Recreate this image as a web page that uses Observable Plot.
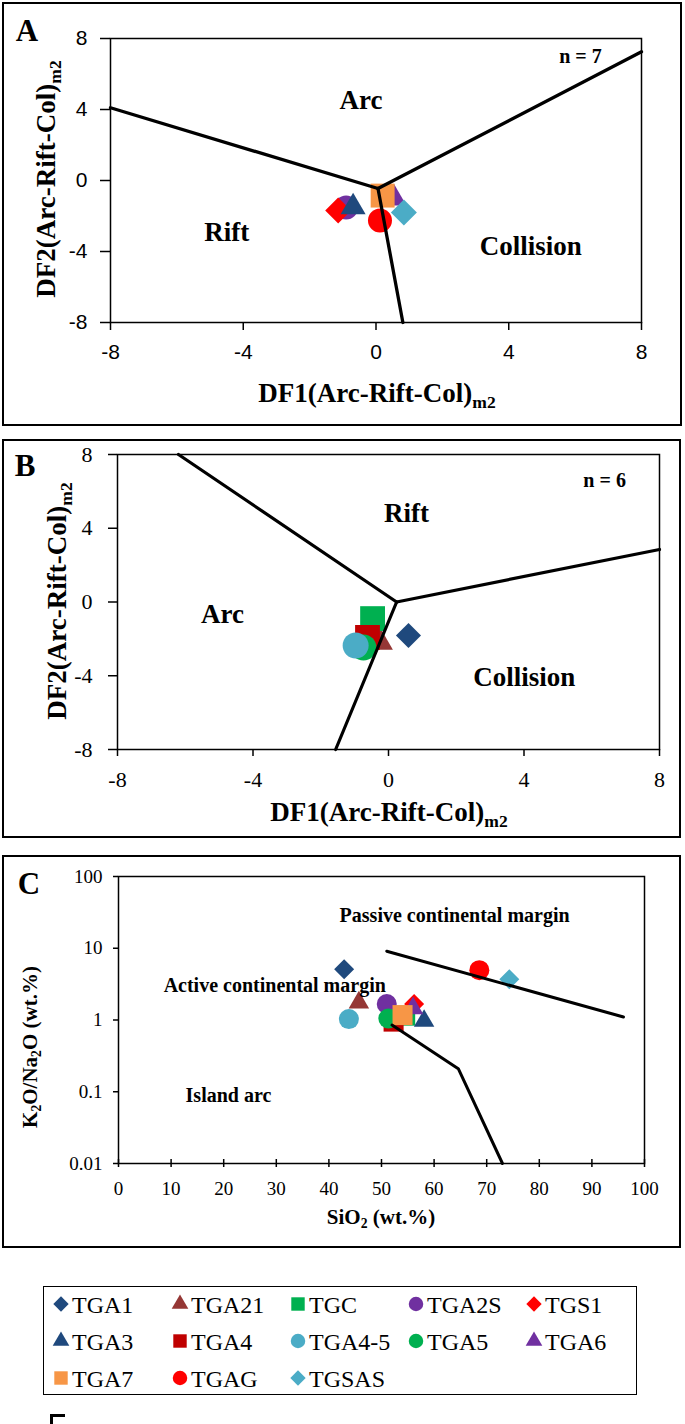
<!DOCTYPE html>
<html><head><meta charset="utf-8">
<script src="https://cdn.jsdelivr.net/npm/d3@7"></script>
<script src="https://cdn.jsdelivr.net/npm/@observablehq/plot@0.6"></script>
<style>
html,body{margin:0;padding:0;background:#fff;}
#page{position:relative;width:685px;height:1424px;overflow:hidden;background:#fff;}
#page svg{position:absolute;left:0;}
.box{position:absolute;border:2px solid #000;box-sizing:border-box;}
.t{position:absolute;font-family:"Liberation Serif","Times New Roman",Times,serif;font-weight:bold;white-space:nowrap;color:#000;line-height:1;}
.sub{font-size:0.65em;position:relative;top:0.32em;}
.leg{position:absolute;font-family:"Liberation Serif","Times New Roman",Times,serif;font-size:24px;line-height:1;white-space:nowrap;color:#000;}
</style></head>
<body><div id="page"></div>
<script>
// ---------------- data ----------------
const sampleNames   = ["TGA1","TGA21","TGC","TGA2S","TGS1","TGA3","TGA4","TGA4-5","TGA5","TGA6","TGA7","TGAG","TGSAS"];
const sampleSymbols = ["diamond2","triangle","square","circle","diamond2","triangle","square","circle","circle","triangle","square","circle","diamond2"];
const sampleColors  = ["#1F497D","#953735","#00B050","#7030A0","#FF0000","#1F497D","#C00000","#4BACC6","#00B050","#7030A0","#F79646","#FF0000","#4BACC6"];

const dfTicks = [-8, -4, 0, 4, 8];

// Panel A (n = 7)
const aSamples = ["TGA2S","TGS1","TGA3","TGA6","TGA7","TGAG","TGSAS"];
const aDF1     = [-0.90, -1.14, -0.69, 0.54, 0.20, 0.12, 0.84];
const aDF2     = [-1.52, -1.69, -1.50, -1.00, -0.85, -2.25, -1.80];
const aBoundX1 = [-8.0, 0.06, 0.06];
const aBoundY1 = [4.1, -0.45, -0.45];
const aBoundX2 = [0.06, 8.0, 0.81];
const aBoundY2 = [-0.45, 7.25, -8.0];
const aLabels  = ["Arc", "Rift", "Collision"];
const aLabelX  = [-0.45, -4.5, 4.66];
const aLabelY  = [4.5, -2.9, -3.7];
const aCount   = "n = 7";

// Panel B (n = 6)
const bSamples = ["TGA1","TGA21","TGC","TGA4","TGA5","TGA4-5"];
const bDF1     = [0.59, -0.24, -0.47, -0.62, -0.74, -0.97];
const bDF2     = [-1.82, -2.2, -0.90, -1.92, -2.47, -2.36];
const bBoundX1 = [-6.2, 0.24, 0.24];
const bBoundY1 = [8.0, 0.0, 0.0];
const bBoundX2 = [0.24, 8.0, -1.56];
const bBoundY2 = [0.0, 2.85, -8.0];
const bLabels  = ["Rift", "Arc", "Collision"];
const bLabelX  = [0.53, -4.9, 4.01];
const bLabelY  = [4.8, -0.68, -4.09];
const bCount   = "n = 6";

// Panel C
const cSamples = ["TGA1","TGA21","TGC","TGA2S","TGS1","TGA3","TGA4","TGA4-5","TGA5","TGA6","TGA7","TGAG","TGSAS"];
const cSiO2    = [42.9, 45.7, 54.5, 51.0, 56.2, 58.1, 52.3, 43.8, 51.3, 56.0, 54.0, 68.6, 74.3];
const cRatio   = [5.1, 1.75, 1.15, 1.67, 1.67, 0.97, 0.95, 1.03, 1.05, 1.45, 1.17, 4.95, 3.71];
const cLineId  = ["upper","upper","lower","lower","lower"];
const cLineX   = [51, 96, 52, 64.6, 73];
const cLineY   = [9.1, 1.1, 0.85, 0.21, 0.01];
const cLabels  = ["Passive continental margin", "Active continental margin", "Island arc"];
const cLabelX  = [63.9, 29.7, 20.9];
const cLabelY  = [28.7, 2.97, 0.088];
const cTicksX  = [0, 10, 20, 30, 40, 50, 60, 70, 80, 90, 100];
const cTicksY  = [0.01, 0.1, 1, 10, 100];

// ---------------- helpers ----------------
const SERIF = '"Liberation Serif", "Times New Roman", Times, serif';
const SANS  = '"Liberation Sans", Arial, Helvetica, sans-serif';
const page = document.getElementById("page");
const info = Object.fromEntries(sampleNames.map((n, i) => [n, {symbol: sampleSymbols[i], color: sampleColors[i]}]));
const fmt = d => String(d);

function pointMarks(names, xs, ys, sizes) {
  return names.map((n, i) => Plot.dot([{x: xs[i], y: ys[i]}], {
    x: "x", y: "y", symbol: info[n].symbol, fill: info[n].color, r: sizes[info[n].symbol]
  }));
}
function links(x1, y1, x2, y2) {
  return x1.map((v, i) => ({x1: v, y1: y1[i], x2: x2[i], y2: y2[i]}));
}
function labelRows(t, xs, ys) { return t.map((s, i) => ({text: s, x: xs[i], y: ys[i]})); }

function place(svg, top) { svg.style.top = top + "px"; page.appendChild(svg); }
function box(l, t, r, b, bw) {
  const d = document.createElement("div"); d.className = "box";
  Object.assign(d.style, {left: l + "px", top: t + "px", width: (r - l) + "px", height: (b - t) + "px", borderWidth: (bw || 2) + "px"});
  page.appendChild(d);
}
function title(html, cx, cy, size, rot, weight) {
  const d = document.createElement("div"); d.className = "t";
  d.style.fontSize = size + "px"; d.style.left = cx + "px"; d.style.top = cy + "px";
  if (weight) d.style.fontWeight = weight;
  d.style.transform = "translate(-50%,-50%)" + (rot ? " rotate(-90deg)" : "");
  d.innerHTML = html; page.appendChild(d);
}
const baseStyle = {background: "transparent", overflow: "visible", color: "#000", maxWidth: "none"};

// ---------------- Panel A ----------------
const plotA = Plot.plot({
  width: 685, height: 425, marginLeft: 110, marginRight: 44, marginTop: 38, marginBottom: 103,
  style: baseStyle,
  x: {domain: [-8, 8], label: null}, y: {domain: [-8, 8], label: null},
  marks: [
    ...pointMarks(aSamples, aDF1, aDF2, {circle: 12, square: 13.5, diamond2: 11.7, triangle: 9.3}),
    Plot.link(links(aBoundX1, aBoundY1, aBoundX2, aBoundY2), {x1: "x1", y1: "y1", x2: "x2", y2: "y2", stroke: "#000", strokeWidth: 3.3, strokeLinecap: "round"}),
    Plot.frame({stroke: "#000", strokeWidth: 1.5}),
    Plot.axisX(dfTicks, {tickSize: 8, tickPadding: 14, fontSize: 21, fontFamily: SANS, tickFormat: fmt, label: null, strokeWidth: 1.5}),
    Plot.axisY(dfTicks, {tickSize: 10, tickPadding: 13, fontSize: 21, fontFamily: SANS, tickFormat: fmt, label: null, strokeWidth: 1.5}),
    Plot.text(labelRows(aLabels, aLabelX, aLabelY), {x: "x", y: "y", text: "text", fontSize: 27, fontWeight: "bold", fontFamily: SERIF, fill: "#000"}),
    Plot.text([{x: 6.16, y: 7.0, text: aCount}], {x: "x", y: "y", text: "text", fontSize: 20, fontWeight: "bold", fontFamily: SERIF, fill: "#000"})
  ]
});
place(plotA, 0);

// ---------------- Panel B ----------------
const plotB = Plot.plot({
  width: 685, height: 399, marginLeft: 117, marginRight: 26, marginTop: 15, marginBottom: 89,
  style: baseStyle,
  x: {domain: [-8, 8], label: null}, y: {domain: [-8, 8], label: null},
  marks: [
    ...pointMarks(bSamples, bDF1, bDF2, {circle: 13, square: 14, diamond2: 11.3, triangle: 9.3}),
    Plot.link(links(bBoundX1, bBoundY1, bBoundX2, bBoundY2), {x1: "x1", y1: "y1", x2: "x2", y2: "y2", stroke: "#000", strokeWidth: 3.2, strokeLinecap: "round"}),
    Plot.frame({stroke: "#000", strokeWidth: 1.5}),
    Plot.axisX(dfTicks, {tickSize: 7, tickPadding: 15, fontSize: 22, fontFamily: SERIF, tickFormat: fmt, label: null, strokeWidth: 1.5}),
    Plot.axisY(dfTicks, {tickSize: 9, tickPadding: 16, fontSize: 22, fontFamily: SERIF, tickFormat: fmt, label: null, strokeWidth: 1.5}),
    Plot.text(labelRows(bLabels, bLabelX, bLabelY), {x: "x", y: "y", text: "text", fontSize: 27, fontWeight: "bold", fontFamily: SERIF, fill: "#000"}),
    Plot.text([{x: 6.38, y: 6.59, text: bCount}], {x: "x", y: "y", text: "text", fontSize: 20, fontWeight: "bold", fontFamily: SERIF, fill: "#000"})
  ]
});
place(plotB, 439);

// ---------------- Panel C ----------------
const cLineRows = cLineX.map((v, i) => ({id: cLineId[i], x: v, y: cLineY[i]}));
const plotC = Plot.plot({
  width: 685, height: 393, marginLeft: 118, marginRight: 41, marginTop: 21, marginBottom: 85,
  style: baseStyle,
  x: {domain: [0, 100], label: null}, y: {type: "log", domain: [0.01, 100], label: null},
  marks: [
    ...pointMarks(cSamples, cSiO2, cRatio, {circle: 10, square: 11.3, diamond2: 9, triangle: 7.6}),
    Plot.line(cLineRows, {x: "x", y: "y", z: "id", stroke: "#000", strokeWidth: 3, strokeLinejoin: "miter"}),
    Plot.frame({stroke: "#000", strokeWidth: 1.5}),
    Plot.axisX(cTicksX, {tickSize: 8, dy: -4, text: null, strokeWidth: 1.5}),
    Plot.axisX(cTicksX, {tickSize: 0, tickPadding: 18, fontSize: 19, fontFamily: SERIF, tickFormat: fmt, label: null}),
    Plot.axisY(cTicksY, {tickSize: 5, tickPadding: 11, fontSize: 19, fontFamily: SERIF, tickFormat: fmt, label: null, strokeWidth: 1.5}),
    Plot.text(labelRows(cLabels, cLabelX, cLabelY), {x: "x", y: "y", text: "text", fontSize: 20, fontWeight: "bold", fontFamily: SERIF, fill: "#000"})
  ]
});
place(plotC, 855);

// ---------------- frames & titles ----------------
box(2, 2, 682, 426, 2);
box(2, 439, 681, 838, 2.5);
box(2, 855, 681, 1248, 2);

title("A", 27, 30, 31);
title("B", 25, 465, 31);
title("C", 29, 883, 31);
title('DF1(Arc-Rift-Col)<span class="sub">m2</span>', 377, 393, 27);
title('DF2(Arc-Rift-Col)<span class="sub">m2</span>', 46, 179, 27, true);
title('DF1(Arc-Rift-Col)<span class="sub">m2</span>', 389, 812, 27);
title('DF2(Arc-Rift-Col)<span class="sub">m2</span>', 57, 601, 27, true);
title('SiO<span class="sub">2</span> (wt.%)', 381, 1217, 21);
title('K<span class="sub">2</span>O/Na<span class="sub">2</span>O (wt.%)', 30, 1047, 21, true);

// ---------------- legend ----------------
box(43, 1286, 637, 1395, 1.5);
const legColX = [61, 180, 298, 416, 534];
const legRowY = [1304, 1341, 1378];
const legSize = {circle: 165, square: 180, diamond2: 150, triangle: 120};
const d3sym = {circle: d3.symbolCircle, square: d3.symbolSquare, diamond2: d3.symbolDiamond2, triangle: d3.symbolTriangle};
sampleNames.forEach((n, i) => {
  const cx = legColX[i % 5], cy = legRowY[Math.floor(i / 5)];
  const svg = d3.create("svg").attr("width", 22).attr("height", 22)
    .style("position", "absolute").style("left", (cx - 11) + "px").style("top", (cy - 11) + "px");
  svg.append("path").attr("transform", "translate(11,11)")
    .attr("d", d3.symbol(d3sym[sampleSymbols[i]], legSize[sampleSymbols[i]])())
    .attr("fill", sampleColors[i]);
  page.appendChild(svg.node());
  const t = document.createElement("div"); t.className = "leg";
  t.style.left = (cx + 11) + "px"; t.style.top = (cy - 11) + "px";
  t.textContent = n; page.appendChild(t);
});

// small mark at the bottom edge
const mk = document.createElement("div");
Object.assign(mk.style, {position: "absolute", left: "50px", top: "1414px", width: "12px", height: "12px", borderTop: "3px solid #000", borderLeft: "3px solid #000"});
page.appendChild(mk);
</script>
</body></html>
